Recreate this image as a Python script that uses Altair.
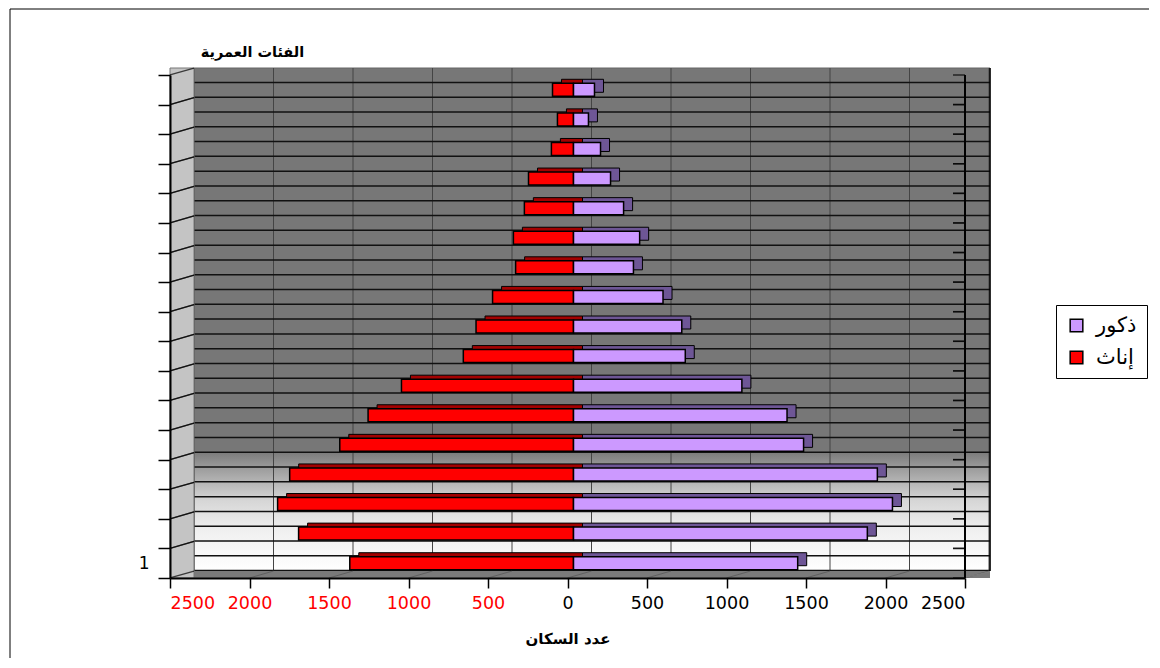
import altair as alt
import pandas as pd

# ---------------- data (bottom group "1" first, top group last) ----------------
age_groups = [str(i) for i in range(1, 18)]
females = [1407, 1729, 1861, 1785, 1470, 1292, 1082, 693, 613, 509, 364, 378, 309, 283, 139, 101, 132]
males = [1410, 1848, 2006, 1911, 1447, 1343, 1059, 703, 681, 563, 377, 416, 315, 233, 170, 94, 132]
series_names = ["ذكور", "إناث"]
series_colors = ["#cc99ff", "#ff0000"]
x_ticks = [-2500, -2000, -1500, -1000, -500, 0, 500, 1000, 1500, 2000, 2500]

FONT = "DejaVu Sans, Liberation Sans, sans-serif"
W, H = 795, 503

bars = pd.DataFrame({
    "cat": age_groups * 2,
    "sex": [series_names[1]] * len(age_groups) + [series_names[0]] * len(age_groups),
    "value": [-v for v in females] + males,
})
cats = pd.DataFrame({"cat": age_groups})
ticks = pd.DataFrame({"v": x_ticks})
one = pd.DataFrame({"a": [0]})

order = age_groups[::-1]
xs = alt.Scale(domain=[-2500, 2500], nice=False, zero=False)
ys = alt.Scale(domain=order, paddingInner=0, paddingOuter=0)

x_axis = alt.Axis(
    values=x_ticks, labelExpr="format(abs(datum.value), 'd')",
    labelColor={"condition": {"test": "datum.value < 0", "value": "#ff0000"}, "value": "#000000"},
    labelFontSize=17.5, labelFont=FONT, labelPadding=6,
    tickSize=10, tickColor="black", tickWidth=1.5,
    domainColor="black", domainWidth=2, grid=False, zindex=1,
    title="عدد السكان", titleFont=FONT, titleFontSize=15, titleFontWeight="bold",
    titlePadding=20, titleColor="black")
y_axis = alt.Axis(
    orient="left", tickBand="extent", tickSize=12, tickColor="black", tickWidth=1.5,
    domainColor="black", domainWidth=2, grid=False, zindex=1,
    labelExpr="datum.value == '1' ? '1' : ''", labelFontSize=17, labelFont=FONT,
    labelColor="black", labelPadding=9,
    title="الفئات العمرية", titleAngle=0, titleX=82, titleY=-23, titleAlign="center",
    titleBaseline="middle", titleFont=FONT, titleFontSize=14.5, titleFontWeight="bold",
    titleColor="black")


def xq(field):
    return alt.X(field, scale=xs, axis=x_axis)


def xd(v):
    return alt.X(datum=v, type="quantitative", scale=xs, axis=x_axis)


def ycat(bp=None):
    if bp is None:
        return alt.Y("cat:N", scale=ys, axis=y_axis)
    return alt.Y("cat:N", scale=ys, axis=y_axis, bandPosition=bp)


# outer frame
frame = alt.Chart(one).mark_rect(fillOpacity=0, stroke="black", strokeWidth=1).encode(
    x=alt.value(-160), x2=alt.value(1200), y=alt.value(-66), y2=alt.value(700))

# back wall with gradient
grad = alt.LinearGradient(
    gradient="linear", x1=0, x2=0, y1=0, y2=1,
    stops=[alt.GradientStop(color="#777777", offset=0),
           alt.GradientStop(color="#777777", offset=0.76),
           alt.GradientStop(color="#a0a0a0", offset=0.80),
           alt.GradientStop(color="#d6d6d6", offset=0.86),
           alt.GradientStop(color="#f0f0f0", offset=0.92),
           alt.GradientStop(color="#ffffff", offset=1)])
wall = alt.Chart(one).mark_rect(fill=grad, stroke="#666666", strokeWidth=1).encode(
    x=alt.value(24), x2=alt.value(820), y=alt.value(-7), y2=alt.value(496))

vgrid = alt.Chart(ticks).mark_rule(xOffset=24, color="#444444", strokeWidth=1).encode(
    x=xq("v:Q"), y=alt.value(-7), y2=alt.value(496))

hgrid_a = alt.Chart(cats).mark_rule(color="#111111", strokeWidth=1.5).encode(
    y=ycat(0.25), x=alt.value(24), x2=alt.value(820))
hgrid_b = alt.Chart(cats).mark_rule(color="#111111", strokeWidth=1.5).encode(
    y=ycat(0.75), x=alt.value(24), x2=alt.value(820))

right_edge = alt.Chart(one).mark_rule(color="black", strokeWidth=1.5).encode(
    x=alt.value(820), y=alt.value(-7), y2=alt.value(496))

floor = alt.Chart(one).mark_rect(fill="#7a7a7a").encode(
    x=alt.value(0), x2=alt.value(820), y=alt.value(496), y2=alt.value(503))
floor_diag = alt.Chart(ticks).mark_point(
    shape="M-1,0.29L1,-0.29", size=576, filled=False, stroke="#555555", strokeWidth=1, xOffset=12
).encode(x=xq("v:Q"), y=alt.value(499.5))
floor_edge = alt.Chart(one).mark_point(
    shape="M-1,0.24L1,-0.24", size=625, filled=False, stroke="#888888", strokeWidth=1
).encode(x=alt.value(807.5), y=alt.value(499.5))

side = alt.Chart(one).mark_rect(fill="#c4c4c4", stroke="#777777", strokeWidth=1).encode(
    x=alt.value(0), x2=alt.value(24), y=alt.value(-7), y2=alt.value(503))
side_diag_b = alt.Chart(cats).mark_point(
    shape="M-1,0.29L1,-0.29", size=576, filled=False, stroke="black", strokeWidth=1.3, yOffset=-3.5
).encode(x=alt.value(12), y=ycat(1))
side_diag_t = alt.Chart(cats).mark_point(
    shape="M-1,0.29L1,-0.29", size=576, filled=False, stroke="black", strokeWidth=1.3, yOffset=-3.5
).encode(x=alt.value(12), y=ycat(0))

# 3D depth faces of the bars
depth_f = alt.Chart(bars).transform_filter(alt.datum.sex == series_names[1]).mark_bar(
    size=13, xOffset=15, yOffset=-4, color="#a30000", stroke="black", strokeWidth=1
).encode(x=xq("value:Q"), y=ycat())
depth_m = alt.Chart(bars).transform_filter(alt.datum.sex == series_names[0]).mark_bar(
    size=13, xOffset=15, yOffset=-4, color="#6e5696", stroke="black", strokeWidth=1
).encode(x=xq("value:Q"), y=ycat())

front = alt.Chart(bars).mark_bar(size=13, xOffset=6, stroke="black", strokeWidth=1.5).encode(
    x=xq("value:Q"),
    y=ycat(),
    color=alt.Color("sex:N", scale=alt.Scale(domain=series_names, range=series_colors),
                    legend=alt.Legend(orient="none", legendX=886, legendY=230, title=None,
                                      fillColor="white", strokeColor="black", padding=10,
                                      labelFontSize=21, labelFont=FONT, labelColor="black",
                                      symbolType="square", symbolSize=160,
                                      symbolStrokeColor="black", symbolStrokeWidth=1.5,
                                      rowPadding=10, labelOffset=9)),
)

right_line = alt.Chart(one).mark_rule(color="black", strokeWidth=2).encode(
    x=xd(2500), y=alt.value(0), y2=alt.value(503))
right_ticks_t = alt.Chart(cats).mark_point(
    shape="M-1,0L1,0", size=144, filled=False, stroke="black", strokeWidth=1.5, xOffset=-6
).encode(x=xd(2500), y=ycat(0))
right_ticks_b = alt.Chart(cats).mark_point(
    shape="M-1,0L1,0", size=144, filled=False, stroke="black", strokeWidth=1.5, xOffset=-6
).encode(x=xd(2500), y=ycat(1))

chart = alt.layer(
    frame, wall, vgrid, hgrid_a, hgrid_b, right_edge, floor, floor_diag, floor_edge,
    side, side_diag_b, side_diag_t, depth_f, depth_m, front,
    right_line, right_ticks_t, right_ticks_b,
).properties(
    width=W, height=H, autosize="none",
    padding={"left": 162, "top": 67, "right": 184, "bottom": 80},
    background="white",
).configure_view(stroke=None).configure(font=FONT)

chart.save("out.html", embed_options={"renderer": "svg", "actions": False})
